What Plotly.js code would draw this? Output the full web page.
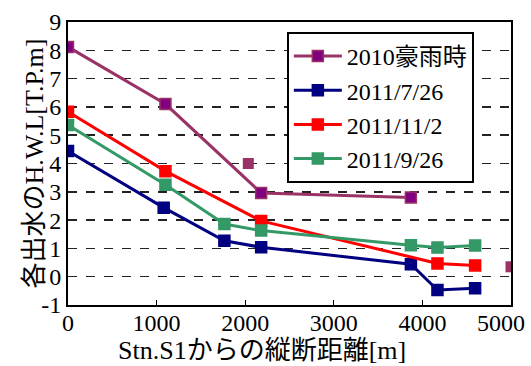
<!DOCTYPE html>
<html><head><meta charset="utf-8">
<script src="https://cdn.plot.ly/plotly-3.0.1.min.js"></script>
<style>html,body{margin:0;padding:0;background:#fff;}</style>
</head><body>
<div id="chart" style="width:531px;height:366px;"></div>
<script>
const seriesNames = ['2010豪雨時', '2011/7/26', '2011/11/2', '2011/9/26'];
const x2010 = [0, 1100, 2180, 3870];
const y2010 = [8.12, 6.1, 2.96, 2.8];
const x0726 = [0, 1080, 1765, 2180, 3870, 4170, 4595];
const y0726 = [4.44, 2.44, 1.27, 1.04, 0.44, -0.47, -0.41];
const x1102 = [0, 1100, 2180, 4170, 4595];
const y1102 = [5.83, 3.73, 1.97, 0.47, 0.40];
const x0926 = [0, 1100, 1765, 2180, 3870, 4170, 4595];
const y0926 = [5.36, 3.25, 1.86, 1.63, 1.11, 1.03, 1.10];
const xExtra = [2035, 5000];
const yExtra = [4.0, 0.35];
const xTicks = [0, 1000, 2000, 3000, 4000, 5000];
const xTickText = ['0', '1000', '2000', '3000', '4000', ''];
const xLastLabel = '5000';
const yTicks = [-1, 0, 1, 2, 3, 4, 5, 6, 7, 8, 9];

const FONT = 'Liberation Serif, Noto Sans CJK JP, serif';

function tr(x, y, name, line, fill, edge) {
  return {x, y, name, type: 'scatter', mode: 'lines+markers',
    line: {color: line, width: 3},
    marker: {symbol: 'square', size: 11, color: fill, line: {color: edge, width: 1.5}}};
}
const data = [
  tr(x2010, y2010, seriesNames[0], '#993366', '#800080', '#993366'),
  tr(x0726, y0726, seriesNames[1], '#000080', '#000080', '#000080'),
  tr(x1102, y1102, seriesNames[2], '#FF0000', '#FF0000', '#FF0000'),
  tr(x0926, y0926, seriesNames[3], '#339966', '#339966', '#339966'),
  {x: xExtra, y: yExtra, type: 'scatter', mode: 'markers', showlegend: false,
   marker: {symbol: 'square', size: 11, color: '#993366'}}
];

const layout = {
  width: 531, height: 366,
  margin: {l: 68, r: 20, t: 22, b: 61},
  paper_bgcolor: '#fff', plot_bgcolor: '#fff',
  font: {family: FONT, color: '#000', size: 24},
  showlegend: true,
  xaxis: {range: [0, 5000], tickvals: xTicks, ticktext: xTickText,
    showgrid: false, zeroline: false, showline: true, linecolor: '#000', linewidth: 2,
    mirror: true, ticks: 'inside', ticklen: 5, tickcolor: '#000',
    ticklabeloverflow: 'allow', ticklabelstandoff: -5,
    tickfont: {family: FONT, size: 24, color: '#000'}},
  yaxis: {range: [-1, 9], tickvals: yTicks, ticktext: yTicks.map(String),
    showgrid: true, gridcolor: '#222', griddash: 'dash', gridwidth: 1.5,
    zeroline: false, showline: true, linecolor: '#000', linewidth: 2,
    mirror: true, ticks: '', ticklabelstandoff: 0, ticklabeloverflow: 'allow',
    tickfont: {family: FONT, size: 24, color: '#000'}},
  legend: {x: 0.494, y: 0.965, xanchor: 'left', yanchor: 'top',
    bgcolor: '#fff', bordercolor: '#000', borderwidth: 2,
    font: {family: FONT, size: 24, color: '#000'}, tracegroupgap: 0, itemwidth: 48},
  annotations: [
    {text: xLastLabel, xref: 'x', yref: 'paper', x: 5000, y: -0.062,
     xanchor: 'right', yanchor: 'middle', xshift: 16, showarrow: false,
     font: {family: FONT, size: 24, color: '#000'}},
    {text: 'Stn.S1からの縦断距離[m]', xref: 'paper', yref: 'paper', x: 0.438, y: -0.16,
     xanchor: 'center', yanchor: 'middle', showarrow: false,
     font: {family: FONT, size: 26, color: '#000'}},
    {text: '各出水のH.W.L[T.P.m]', xref: 'paper', yref: 'paper', x: -0.0767, y: 0.5,
     xanchor: 'center', yanchor: 'middle', textangle: -90, showarrow: false,
     font: {family: FONT, size: 26, color: '#000'}}
  ]
};
Plotly.newPlot('chart', data, layout, {displayModeBar: false, staticPlot: true});
</script>
</body></html>
